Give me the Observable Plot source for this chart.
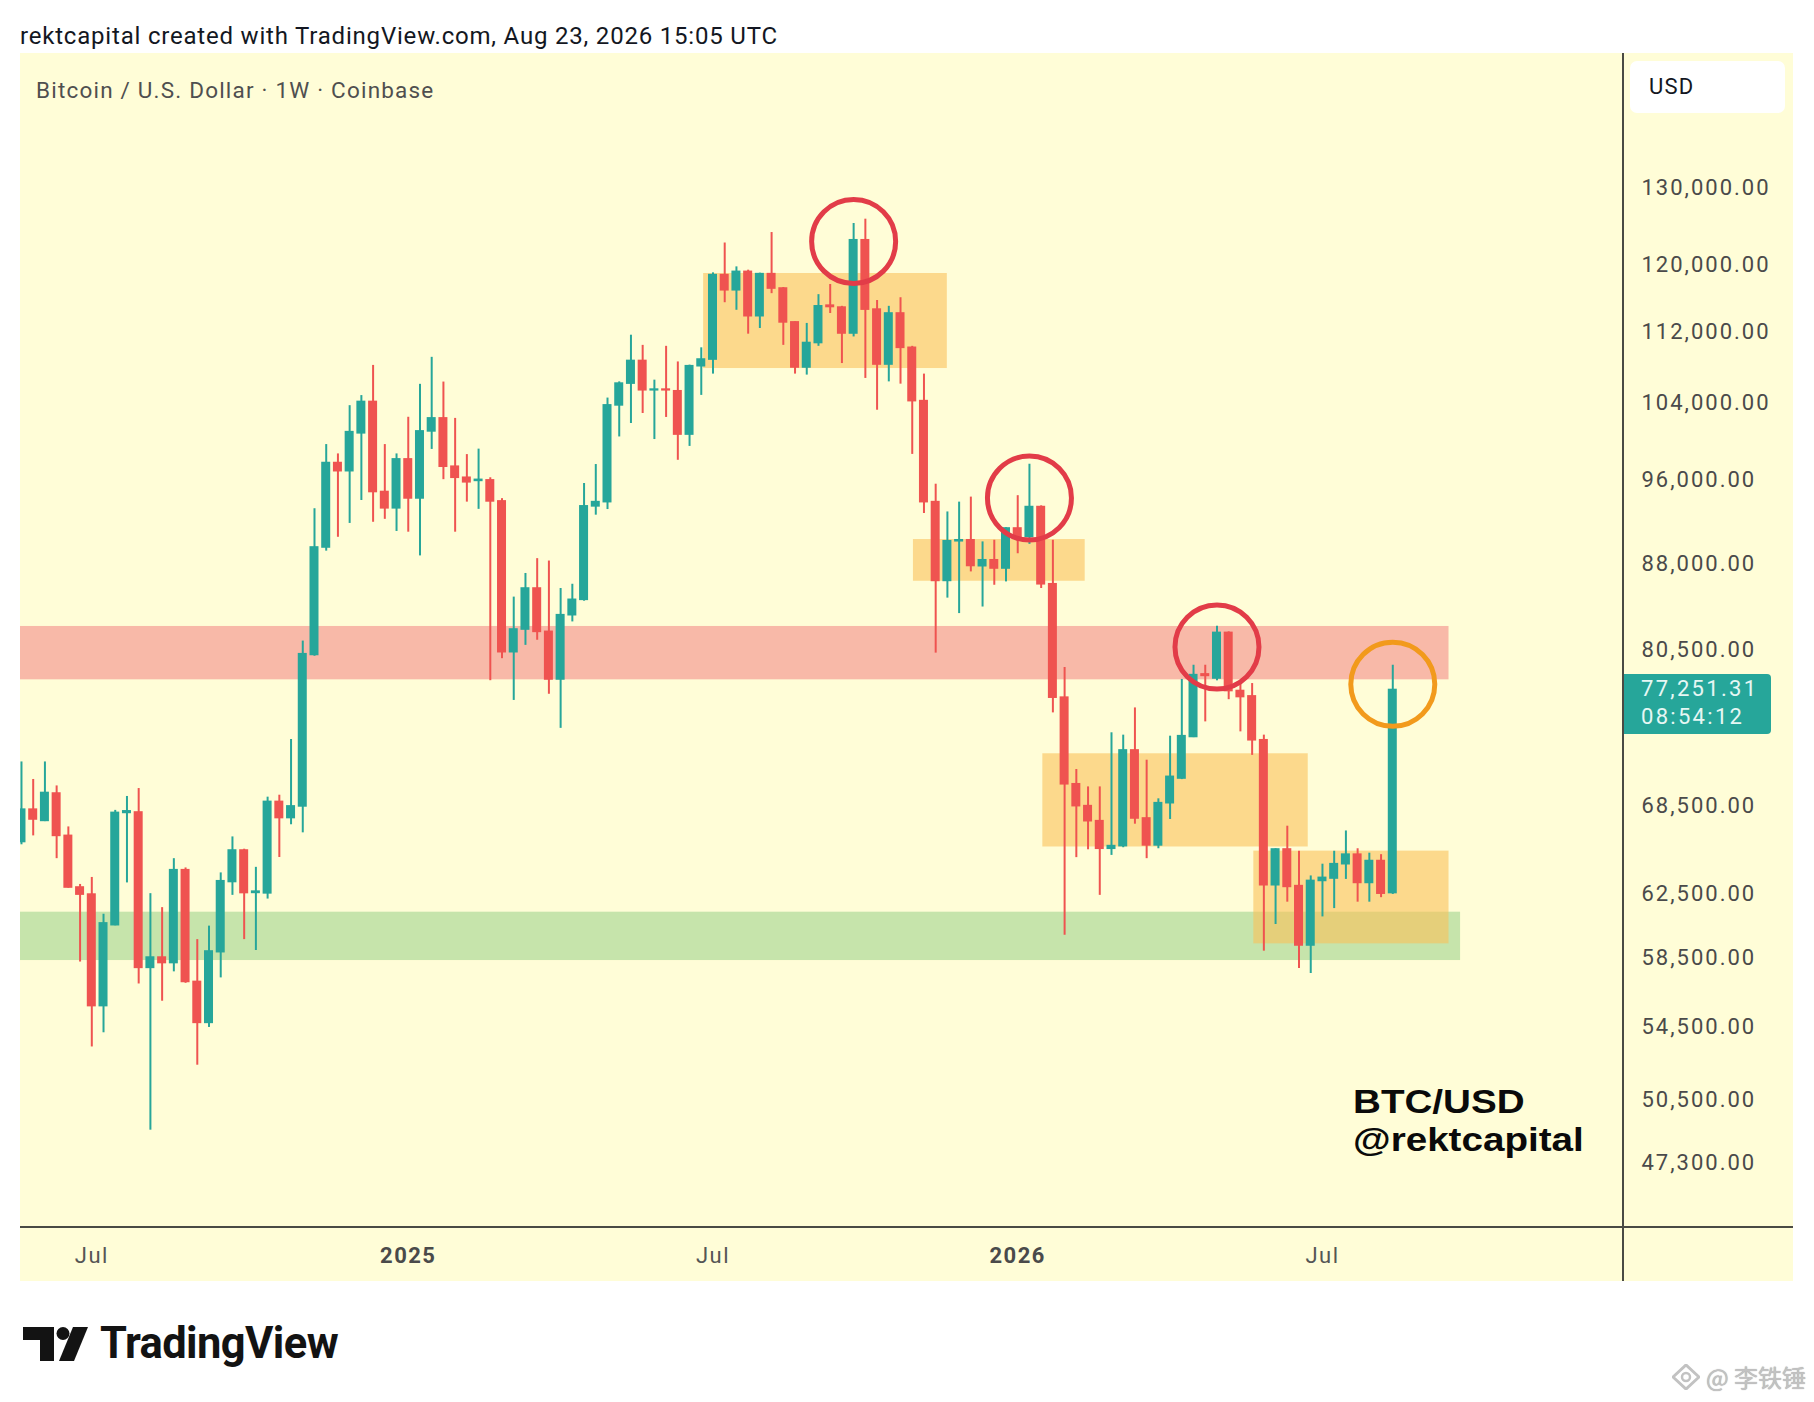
<!DOCTYPE html>
<html>
<head>
<meta charset="utf-8">
<script src="https://cdn.jsdelivr.net/npm/d3@7"></script>
<script src="https://cdn.jsdelivr.net/npm/@observablehq/plot@0.6"></script>
<style>
  html, body { margin: 0; padding: 0; background: #ffffff; }
  body { width: 1814px; height: 1402px; position: relative; overflow: hidden; font-family: Roboto, "Liberation Sans", sans-serif; }
  #title { position: absolute; left: 20px; top: 21px; line-height: 30px; font-size: 24px; letter-spacing: 0.8px; color: #131722; white-space: nowrap; }
  #frame { position: absolute; left: 20px; top: 53px; width: 1773px; height: 1228px; background: #fffdd7; }
  #frame svg { display: block; }
  #legend { position: absolute; left: 36px; top: 77px; line-height: 26px; font-size: 22.5px; letter-spacing: 1.2px; color: #4f4f4f; white-space: nowrap; }
  .vline { position: absolute; left: 1622px; top: 53px; width: 2px; height: 1228px; background: #4a4a44; }
  .hline { position: absolute; left: 20px; top: 1226px; width: 1773px; height: 2px; background: #4a4a44; }
  #usd { position: absolute; left: 1630px; top: 61px; width: 155px; height: 52px; background: #ffffff; border-radius: 7px; font-size: 22px; letter-spacing: 1.2px; line-height: 52px; color: #131722; box-sizing: border-box; padding-left: 19px; }
  #tag { position: absolute; left: 1624px; width: 147px; height: 60px; background: #26a69a; border-radius: 0 4px 4px 0; color: #e6f7f4; font-size: 22px; line-height: 28px; box-sizing: border-box; padding-left: 17px; padding-top: 1px; letter-spacing: 2.3px; }
  .sig { position: absolute; left: 1353px; font-family: "Liberation Sans", Arial, sans-serif; font-weight: 700; font-size: 33px; line-height: 38px; height: 38px; color: #0a0a0a; white-space: nowrap; transform: scaleX(1.17); transform-origin: 0 50%; }
  #sig1 { top: 1083px; }
  #sig2 { top: 1121px; }
  #logo { position: absolute; left: 23px; top: 1322px; display: flex; align-items: center; gap: 12px; }
  #logo span { font-family: Roboto, sans-serif; font-weight: 700; font-size: 43.5px; letter-spacing: -0.6px; color: #131313; line-height: 44px; }
  #wm { position: absolute; right: 8px; top: 1362px; display: flex; align-items: center; gap: 6px; color: #c2c2c2; font-family: "Noto Sans CJK SC", sans-serif; font-size: 24px; line-height: 30px; text-shadow: 0 0 1px #9a9a9a; }
  #frame g[aria-label="y-axis tick label"] text { letter-spacing: 2px; }
  #frame g[aria-label="x-axis tick label"] text { letter-spacing: 1.5px; }
</style>
</head>
<body>
<div id="title">rektcapital created with TradingView.com, Aug 23, 2026 15:05 UTC</div>
<div id="frame"></div>
<div class="vline"></div>
<div class="hline"></div>
<div id="legend">Bitcoin / U.S. Dollar · 1W · Coinbase</div>
<div id="usd">USD</div>
<div id="tag"></div>
<div class="sig" id="sig1">BTC/USD</div>
<div class="sig" id="sig2">@rektcapital</div>
<div id="logo">
  <svg width="65" height="34" viewBox="0 0 65 34"><path d="M0 0H31V34H17V13H0Z" fill="#131313"/><circle cx="40" cy="6.5" r="6.5" fill="#131313"/><path d="M50 0H65L51 34H36Z" fill="#131313"/></svg>
  <span>TradingView</span>
</div>
<div id="wm">
  <svg width="28" height="26" viewBox="0 0 28 26"><path d="M14 1L27 13L14 25L1 13Z" fill="none" stroke="#c2c2c2" stroke-width="3"/><circle cx="14" cy="13" r="4" fill="none" stroke="#c2c2c2" stroke-width="2.5"/></svg>
  <span>@ 李铁锤</span>
</div>
<script>
// ---- weekly candles (BTC/USD, 1W) ----
const weekStart = "2024-05-20";
const opens = [65990,68240,67450,69390,66410,62950,62490,55670,60540,68010,68040,57920,58540,58210,64090,57080,54710,58870,63310,65410,
  62600,62570,68790,67650,68470,80110,89550,97740,96920,100800,104130,94850,93260,98110,94220,101000,102370,97370,96260,95950,
  96000,93930,80340,82250,85820,82050,78100,83480,84820,93450,93860,103760,106130,108650,105400,105470,105290,100670,108060,108810,
  118760,116910,119160,113810,118880,117120,113080,107920,110690,115060,114830,111790,123130,114590,108250,114130,110140,104220,93860,86500,
  90130,90220,87830,88370,87620,91330,90530,93380,86200,76640,70060,68490,67430,65530,65710,72560,67620,65760,68700,70480,
  73580,78510,78180,81960,77170,76740,73330,63100,65480,63040,59280,63380,63540,64490,65130,63250,64700,62590];
const highs = [71700,70410,71700,69940,67030,63150,63610,61230,68190,69180,69750,62550,61650,64860,64240,59640,60480,63910,66340,65500,
  64280,69130,69270,73390,81270,93220,99630,98670,103730,104820,108150,99630,98670,102490,106050,109060,106300,102370,98600,99160,
  96260,94200,85060,87170,88520,88300,85820,86200,95690,97590,104550,106320,111590,110420,106510,110310,108540,108180,110140,119040,
  122780,119780,119370,119000,124120,117240,113150,112960,116380,117610,114980,125290,125850,115680,114980,116010,110310,107180,95620,92910,
  93860,94350,90070,90220,91400,94490,97620,93500,90220,79070,71140,69870,69870,73900,73720,75830,71830,69010,73640,78100,
  79260,79260,82530,82050,77900,77770,73720,65530,67080,65360,63710,64490,65360,66750,65530,65230,65130,79260];
const lows = [65800,66410,67400,64860,62900,58270,53360,54150,60500,63250,56960,48950,55950,57680,57000,52360,54450,57320,62440,59640,
  58970,62200,64940,67180,66620,80000,89210,90500,91810,94020,91920,92200,91050,90980,88770,99130,96070,90980,93860,93160,
  78000,79800,76420,80910,81340,76910,74240,82900,84700,92600,93140,100420,101830,102890,100150,102470,98020,99440,104840,107180,
  115410,114510,111710,112370,116500,110420,107180,107070,110310,114130,108360,111390,106700,103240,106320,106070,98620,92760,80260,84970,
  83620,87310,84190,86110,86410,88970,89840,85820,75440,59910,64930,65460,62440,65080,65600,67220,64860,65530,67550,70400,
  73530,74740,77990,76480,73970,72190,58930,60580,62000,57880,57580,61060,61590,63480,62000,62000,62290,62500];
const closes = [68240,67550,69430,66410,62950,62490,55670,60650,68010,68120,57920,58540,58210,64090,57080,54710,58910,63360,65410,62590,
  62680,68790,67650,68470,80170,89550,97740,96920,100920,104130,94850,93260,98110,94220,101000,102370,97370,96260,95810,96050,
  93930,80340,82250,85820,82050,78100,83480,84820,93450,93860,103760,106130,108650,105400,105470,105400,100670,108060,108810,118760,
  116910,119160,113810,118880,117120,113080,107920,110690,114980,114900,111790,123130,114590,108250,114130,110140,104220,93860,86500,90130,
  90220,87850,88370,87620,91330,90530,93380,86200,76640,70060,68490,67430,65530,65710,72560,67620,65760,68700,70600,73640,
  78450,78390,81960,77170,76690,73330,63100,65480,62990,59280,63380,63580,64490,65130,63250,64700,62550,77251.31];

// ---- horizontal zones ----
const bandLows = [78070, 58360];
const bandHighs = [82510, 61360];
const bandEnds = ["2026-09-19T14:00Z", "2026-09-26T12:00Z"];
const bandColors = ["#f8b9a8", "#c6e4ab"];

// ---- orange consolidation boxes ----
const boxStarts = ["2025-07-01T10:00Z", "2025-11-03T17:00Z", "2026-01-20T00:00Z", "2026-05-26T00:00Z"];
const boxEnds = ["2025-11-23T23:00Z", "2026-02-14T07:00Z", "2026-06-27T12:00Z", "2026-09-19T14:00Z"];
const boxLows = [107800, 86470, 65650, 59380];
const boxHighs = [118960, 90290, 72310, 65370];

// ---- circled highs ----
const circleDates = ["2025-09-29", "2026-01-12", "2026-05-04", "2026-08-17"];
const circlePrices = [122980, 94260, 80770, 77710];
const circleColors = ["#e23c48", "#e23c48", "#e23c48", "#f29a1c"];

// ---- axes ----
const yTicks = [130000, 120000, 112000, 104000, 96000, 88000, 80500, 68500, 62500, 58500, 54500, 50500, 47300];
const monthTickDates = ["2024-07-01", "2025-07-07", "2026-07-06"];
const monthTickLabels = ["Jul", "Jul", "Jul"];
const yearTickDates = ["2025-01-06", "2026-01-05"];
const yearTickLabels = ["2025", "2026"];
const xDomain = ["2024-05-19T10:00Z", "2027-01-01T19:00Z"];
const yDomain = [44253, 149430];

const UP = "#26a69a", DOWN = "#ef5350";
const start = new Date(weekStart + "T00:00Z");
const candles = opens.map((o, i) => ({
  date: d3.utcDay.offset(start, 7 * i),
  open: o, high: highs[i], low: lows[i], close: closes[i],
  color: closes[i] >= o ? UP : DOWN
}));
const bands = bandLows.map((lo, i) => ({x1: new Date(xDomain[0]), x2: new Date(bandEnds[i]), lo, hi: bandHighs[i], color: bandColors[i]}));
const boxes = boxLows.map((lo, i) => ({x1: new Date(boxStarts[i]), x2: new Date(boxEnds[i]), lo, hi: boxHighs[i]}));
const circles = circleDates.map((d, i) => ({date: new Date(d + "T00:00Z"), price: circlePrices[i], color: circleColors[i]}));
const monthMap = new Map(monthTickDates.map((d, i) => [+new Date(d + "T00:00Z"), monthTickLabels[i]]));
const yearMap = new Map(yearTickDates.map((d, i) => [+new Date(d + "T00:00Z"), yearTickLabels[i]]));

const chart = Plot.plot({
  width: 1773,
  height: 1228,
  marginLeft: 0,
  marginRight: 170,
  marginTop: 0,
  marginBottom: 54,
  style: {background: "transparent", fontFamily: "Roboto, sans-serif", overflow: "visible"},
  x: {type: "utc", domain: xDomain.map(d => new Date(d))},
  y: {type: "log", domain: yDomain},
  color: {type: "identity"},
  marks: [
    Plot.rect(bands, {x1: "x1", x2: "x2", y1: "lo", y2: "hi", fill: "color"}),
    Plot.rect(boxes, {x1: "x1", x2: "x2", y1: "lo", y2: "hi", fill: "#fac15a", fillOpacity: 0.6}),
    Plot.ruleX(candles, {x: "date", y1: "low", y2: "high", stroke: "color", strokeWidth: 2, clip: true}),
    Plot.rect(candles, {
      x1: d => d3.utcHour.offset(d.date, -84),
      x2: d => d3.utcHour.offset(d.date, 84),
      y1: "open", y2: "close", fill: "color",
      insetLeft: 1.36, insetRight: 1.36, insetTop: -0.8, insetBottom: -0.8, clip: true
    }),
    Plot.dot(circles, {x: "date", y: "price", r: 42, stroke: "color", strokeWidth: 5, fill: "none"}),
    Plot.axisY(yTicks, {anchor: "right", tickSize: 0, tickPadding: 18, tickFormat: d3.format(",.2f"), fontSize: 22, fill: "#4a4a4a", label: null}),
    Plot.axisX(monthTickDates.map(d => new Date(d + "T00:00Z")), {anchor: "bottom", tickSize: 0, tickPadding: 20, tickFormat: d => monthMap.get(+d), fontSize: 22, fill: "#555555", label: null}),
    Plot.axisX(yearTickDates.map(d => new Date(d + "T00:00Z")), {anchor: "bottom", tickSize: 0, tickPadding: 20, tickFormat: d => yearMap.get(+d), fontSize: 22, fontWeight: "bold", fill: "#4a4a4a", label: null})
  ]
});
document.getElementById("frame").append(chart);

// current price tag positioned from the y scale
const last = candles[candles.length - 1];
const tag = document.getElementById("tag");
tag.innerHTML = d3.format(",.2f")(last.close) + "<br>08:54:12";
const yPx = chart.scale("y").apply(last.close);
tag.style.top = (53 + yPx - 15.7) + "px";
</script>
</body>
</html>
